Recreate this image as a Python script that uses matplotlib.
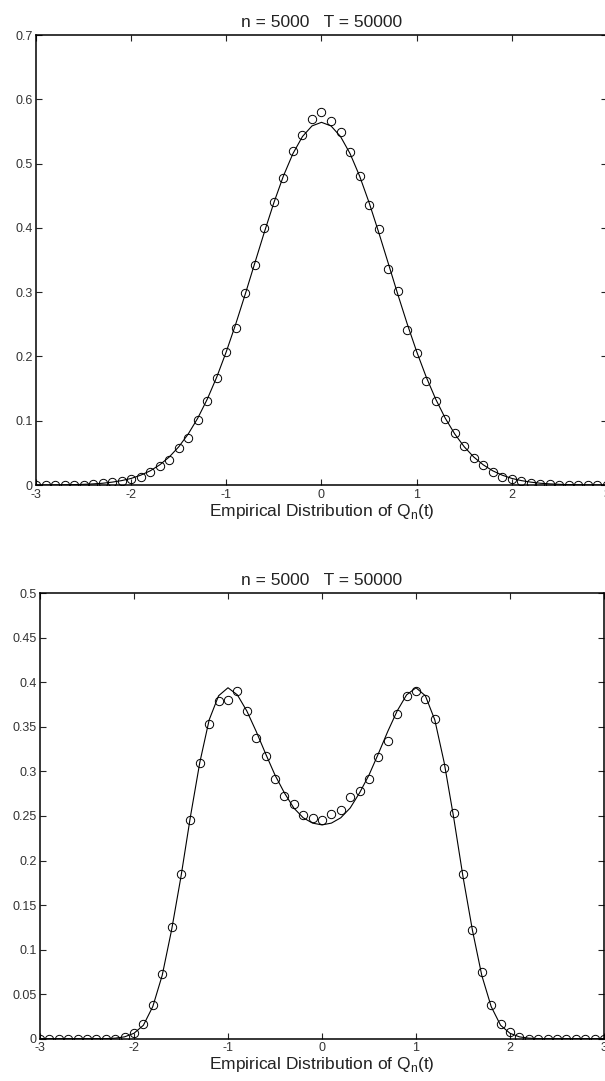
import numpy as np
import matplotlib
matplotlib.use('Agg')
import matplotlib.pyplot as plt
from matplotlib.ticker import FormatStrFormatter, MultipleLocator

plt.rcParams['font.family'] = ['Liberation Sans', 'DejaVu Sans']
plt.rcParams['mathtext.fontset'] = 'custom'
plt.rcParams['mathtext.rm'] = 'Liberation Sans'

# grid of t values, step 0.1 on [-3, 3]
t = np.linspace(-3, 3, 61)

# case 1: unimodal limit density and empirical histogram
dens_1 = [0.0001, 0.0001, 0.0002, 0.0004, 0.0007, 0.0011, 0.0018, 0.0028, 0.0045, 0.0069,
          0.0103, 0.0153, 0.0221, 0.0314, 0.0436, 0.0595, 0.0795, 0.1041, 0.1337, 0.1682,
          0.2076, 0.2510, 0.2975, 0.3457, 0.3936, 0.4394, 0.4808, 0.5156, 0.5421, 0.5586,
          0.5642,
          0.5586, 0.5421, 0.5156, 0.4808, 0.4394, 0.3936, 0.3457, 0.2975, 0.2510, 0.2076,
          0.1682, 0.1337, 0.1041, 0.0795, 0.0595, 0.0436, 0.0314, 0.0221, 0.0153, 0.0103,
          0.0069, 0.0045, 0.0028, 0.0018, 0.0011, 0.0007, 0.0004, 0.0002, 0.0001, 0.0001]
emp_1 = [0, 0, 0, 0, 0, 0, 0.0016, 0.0026, 0.0041, 0.0062,
         0.0093, 0.0124, 0.0197, 0.029, 0.039, 0.0575, 0.073, 0.101, 0.130, 0.166,
         0.207, 0.245, 0.298, 0.343, 0.400, 0.441, 0.478, 0.520, 0.544, 0.569,
         0.580,
         0.566, 0.549, 0.518, 0.481, 0.436, 0.399, 0.336, 0.302, 0.241, 0.205,
         0.162, 0.130, 0.103, 0.081, 0.060, 0.0425, 0.031, 0.0197, 0.013, 0.0093,
         0.0057, 0.0036, 0.002, 0.0016, 0.0005, 0, 0, 0, 0, 0]

# case 2: bimodal limit density and empirical histogram
dens_2 = [0, 0, 0, 0, 0, 0, 0, 0, 0.0005, 0.002,
          0.006, 0.015, 0.036, 0.071, 0.122, 0.182, 0.249, 0.310, 0.358, 0.385,
          0.394, 0.386, 0.368, 0.345, 0.320, 0.296, 0.276, 0.259, 0.248, 0.242,
          0.240,
          0.242, 0.248, 0.259, 0.276, 0.296, 0.320, 0.345, 0.368, 0.386, 0.394,
          0.385, 0.358, 0.310, 0.249, 0.182, 0.122, 0.071, 0.036, 0.015, 0.006,
          0.002, 0.0005, 0, 0, 0, 0, 0, 0, 0, 0]
emp_2 = [0, 0, 0, 0, 0, 0, 0, 0, 0, 0.002,
         0.0066, 0.0164, 0.0377, 0.0728, 0.1255, 0.1845, 0.2458, 0.3097, 0.353, 0.3796,
         0.3807, 0.3905, 0.3676, 0.3373, 0.3176, 0.2914, 0.2723, 0.2634, 0.251, 0.2477,
         0.2458,
         0.2518, 0.2563, 0.2716, 0.2776, 0.2918, 0.3165, 0.334, 0.365, 0.3849, 0.3908,
         0.381, 0.359, 0.3037, 0.2537, 0.1849, 0.122, 0.0747, 0.0377, 0.0164, 0.007,
         0.002, 0, 0, 0, 0, 0, 0, 0, 0, 0]

title = 'n = 5000   T = 50000'
xlabel = r'Empirical Distribution of Q$_{\mathregular{n}}$(t)'


def draw(ax, dens, emp, ymax, ystep):
    ax.plot(t, dens, '-', color='black', linewidth=0.8)
    ax.plot(t, emp, 'o', color='black', fillstyle='none', markersize=6, markeredgewidth=0.7)
    ax.set_xlim(-3, 3)
    ax.set_ylim(0, ymax)
    ax.xaxis.set_major_locator(MultipleLocator(1))
    ax.yaxis.set_major_locator(MultipleLocator(ystep))
    ax.yaxis.set_major_formatter(FormatStrFormatter('%g'))
    ax.xaxis.set_major_formatter(FormatStrFormatter('%g'))
    ax.tick_params(direction='in', top=True, right=True, length=4, width=0.8,
                   labelsize=9, pad=2.5, colors='#222222', labelcolor='#333333')
    for sp in ax.spines.values():
        sp.set_linewidth(1.1)
    ax.set_title(title, fontsize=12.5, pad=6, color='#222222')
    ax.set_xlabel(xlabel, fontsize=12.5, labelpad=1, color='#222222')


fig = plt.figure(figsize=(6.05, 10.81), dpi=100)
ax1 = fig.add_axes([0.0595, 0.5513, 0.9438, 0.4163])
ax2 = fig.add_axes([0.0661, 0.0392, 0.9322, 0.4119])
draw(ax1, dens_1, emp_1, 0.7, 0.1)
draw(ax2, dens_2, emp_2, 0.5, 0.05)
fig.savefig('out.png', dpi=100)
